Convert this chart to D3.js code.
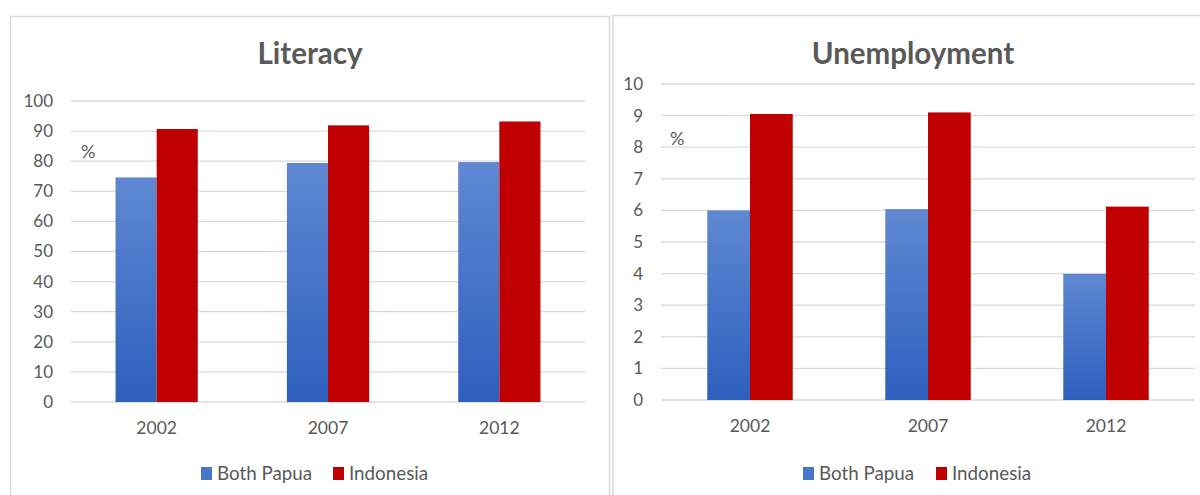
<!DOCTYPE html>
<html><head><meta charset="utf-8">
<script src="https://cdn.jsdelivr.net/npm/d3@7"></script>
<style>body{margin:0;background:#fff}svg{display:block;font-family:Lato,"Open Sans",sans-serif}</style>
</head><body><svg id="c" width="1200" height="495"></svg>
<script>
const years = ["2002","2007","2012"];
const seriesNames = ["Both Papua","Indonesia"];
const literacyPapua = [74.6, 79.4, 79.7];
const literacyIndonesia = [90.7, 91.9, 93.2];
const unempPapua = [6.0, 6.04, 3.99];
const unempIndonesia = [9.05, 9.1, 6.12];
const literacyTicks = [0,10,20,30,40,50,60,70,80,90,100];
const unempTicks = [0,1,2,3,4,5,6,7,8,9,10];

const svg = d3.select("#c");
const defs = svg.append("defs");
const g = defs.append("linearGradient").attr("id","blueGrad").attr("x1",0).attr("y1",0).attr("x2",0).attr("y2",1);
g.append("stop").attr("offset","0%").attr("stop-color","#6088d2");
g.append("stop").attr("offset","100%").attr("stop-color","#2d5fbd");
const colors = ["url(#blueGrad)","#c00000"];
const legendColors = ["#4a74c8","#c00000"];

function panel(cfg){
  const p = svg.append("g");
  p.append("rect").attr("x",cfg.bx).attr("y",cfg.by).attr("width",cfg.bw).attr("height",600)
    .attr("fill","#fff").attr("stroke","#d9d9d9").attr("stroke-width",1.5);
  p.append("text").attr("x",cfg.titleX).attr("y",64).attr("text-anchor","middle")
    .attr("font-size",29.5).attr("font-weight","bold").attr("fill","#595959").text(cfg.title);
  const x = d3.scaleBand().domain(years).range([cfg.x0,cfg.x1]).paddingInner(0.52).paddingOuter(0.26);
  const y = d3.scaleLinear().domain([0,cfg.max]).range([cfg.y0,cfg.y1]);
  const grid = p.append("g");
  grid.selectAll("line").data(cfg.ticks).join("line")
    .attr("x1",cfg.x0).attr("x2",cfg.x1).attr("y1",d=>y(d)).attr("y2",d=>y(d))
    .attr("stroke","#d9d9d9").attr("stroke-width",1.3);
  const yAxis = p.append("g").attr("transform",`translate(${cfg.x0-18},0)`)
    .call(d3.axisLeft(y).tickValues(cfg.ticks).tickSize(0).tickPadding(0));
  yAxis.select(".domain").remove();
  yAxis.selectAll("text").attr("font-size",17).attr("fill","#595959").attr("font-family","Lato,sans-serif");
  const xAxis = p.append("g").attr("transform",`translate(0,${cfg.y0})`)
    .call(d3.axisBottom(x).tickSize(0).tickPadding(20));
  xAxis.select(".domain").remove();
  xAxis.selectAll("text").attr("font-size",17.5).attr("fill","#595959").attr("font-family","Lato,sans-serif");
  const sub = d3.scaleBand().domain(seriesNames).range([0,x.bandwidth()]);
  const data = years.map((yr,i)=>({yr, vals:[cfg.a[i],cfg.b[i]]}));
  const grp = p.selectAll(".cat").data(data).join("g").attr("transform",d=>`translate(${x(d.yr)},0)`);
  grp.selectAll("rect").data(d=>d.vals.map((v,j)=>({v,j}))).join("rect")
    .attr("x",d=>sub(seriesNames[d.j])).attr("width",sub.bandwidth())
    .attr("y",d=>y(d.v)).attr("height",d=>y(0)-y(d.v))
    .attr("fill",d=>colors[d.j]);
  p.append("text").attr("x",cfg.pctX).attr("y",cfg.pctY).attr("font-size",18).attr("fill","#595959").text("%");
  const lg = p.append("g");
  cfg.legend.forEach((lx,j)=>{
    lg.append("rect").attr("x",lx).attr("y",467).attr("width",11).attr("height",13).attr("fill",legendColors[j]);
    lg.append("text").attr("x",lx+16).attr("y",480).attr("font-size",18.8).attr("fill","#595959").text(seriesNames[j]);
  });
}

panel({bx:10.5,by:16.5,bw:599,title:"Literacy",titleX:310,x0:71,x1:585,y0:402,y1:101,max:100,
  ticks:literacyTicks,a:literacyPapua,b:literacyIndonesia,pctX:81,pctY:158,legend:[201,333]});
panel({bx:613,by:15.5,bw:620,title:"Unemployment",titleX:913,x0:661,x1:1195,y0:400,y1:84,max:10,
  ticks:unempTicks,a:unempPapua,b:unempIndonesia,pctX:670,pctY:145,legend:[803,936]});
</script></body></html>
